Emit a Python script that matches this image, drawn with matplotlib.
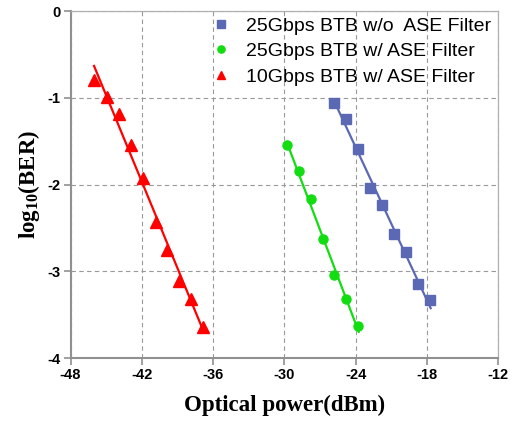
import numpy as np
import matplotlib
matplotlib.use("Agg")
import matplotlib.pyplot as plt

plt.rcParams['mathtext.fontset'] = 'custom'
plt.rcParams['mathtext.rm'] = 'Liberation Serif:bold'
plt.rcParams['mathtext.bf'] = 'Liberation Serif:bold'
plt.rcParams['mathtext.it'] = 'Liberation Serif:bold'

# Data
blue_x = [-25.8, -24.8, -23.8, -22.8, -21.8, -20.8, -19.8, -18.8, -17.75]
blue_y = [-1.06, -1.24, -1.59, -2.04, -2.23, -2.57, -2.78, -3.14, -3.33]
green_x = [-29.8, -28.8, -27.8, -26.8, -25.8, -24.8, -23.8]
green_y = [-1.54, -1.84, -2.17, -2.63, -3.04, -3.32, -3.63]
red_x = [-46.0, -44.95, -43.9, -42.9, -41.9, -40.85, -39.85, -38.85, -37.85, -36.85]
red_y = [-0.80, -0.99, -1.19, -1.54, -1.92, -2.43, -2.75, -3.11, -3.32, -3.64]
labels = ["25Gbps BTB w/o  ASE Filter", "25Gbps BTB w/ ASE Filter", "10Gbps BTB w/ ASE Filter"]
xticks = [-48, -42, -36, -30, -24, -18, -12]
yticks = [0, -1, -2, -3, -4]

colors = ['#5b68b4', '#11dd11', '#ff0000']
markers = ['s', 'o', '^']
msizes = [6.5, 6.5, 8]

fig = plt.figure(figsize=(5.27, 4.25), dpi=100)
ax = fig.add_axes([0.1338, 0.157, 0.812, 0.817])

series = [(blue_x, blue_y), (green_x, green_y), (red_x, red_y)]
handles = []
for (xs, ys), c, m, ms, lab in zip(series, colors, markers, msizes, labels):
    xs = np.array(xs); ys = np.array(ys)
    k, b = np.polyfit(xs, ys, 1)
    xl = np.array([xs.min() - 0.02, xs.max() + 0.05])
    ax.plot(xl, k * xl + b, color=c, lw=1.6, zorder=3)
    ax.plot(xs, ys, linestyle='none', marker=m, ms=ms, color=c, mec=c, zorder=4)
    h, = ax.plot([], [], linestyle='none', marker=m, ms=ms * 0.8, color=c, label=lab)
    handles.append(h)

ax.set_xlim(-48, -12)
ax.set_ylim(-4, 0)
ax.set_xticks(xticks)
ax.set_yticks(yticks)
ax.set_xticklabels([str(t) for t in xticks], fontfamily='Liberation Sans', fontweight='bold', fontsize=10.5)
ax.set_yticklabels([str(t) for t in yticks], fontfamily='Liberation Sans', fontweight='bold', fontsize=10.5)
ax.tick_params(direction='out', length=5, width=1.2, color='#909090', pad=2)
ax.grid(True, color='#999999', linestyle=(0, (4, 3)), linewidth=0.8)
ax.set_axisbelow(True)

for s in ['left', 'bottom']:
    ax.spines[s].set_color('#909090')
    ax.spines[s].set_linewidth(1.5)
for s in ['right', 'top']:
    ax.spines[s].set_color('#b0b0b0')
    ax.spines[s].set_linewidth(0.9)

ax.set_xlabel('Optical power(dBm)', fontfamily='Liberation Serif', fontweight='bold', fontsize=16.5, labelpad=9)
ax.set_ylabel(r'$\mathrm{log}_{10}\mathrm{(BER)}$', fontsize=16.5, labelpad=4)

leg = ax.legend(handles=handles, loc='upper right', bbox_to_anchor=(1.01, 1.016), frameon=False,
                prop={'family': 'Liberation Sans', 'size': 14}, handletextpad=0.7,
                labelspacing=0.4, borderaxespad=0.2, handlelength=1.2)

fig.savefig('out.png', dpi=100)
